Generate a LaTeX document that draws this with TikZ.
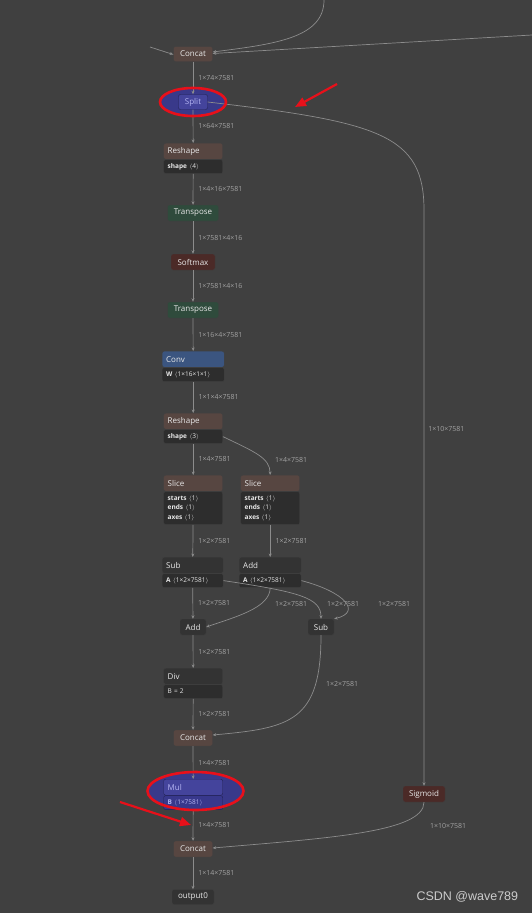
\documentclass[tikz,border=0pt]{standalone}
\usepackage{fontspec}
\setmainfont{Open Sans}
\newfontfamily\wmfont{Liberation Sans}
\usetikzlibrary{positioning,arrows.meta}

\definecolor{bg}{HTML}{404040}
\definecolor{edge}{HTML}{8C8C8C}
\definecolor{lbltext}{HTML}{A2A2A2}
\definecolor{nodetext}{HTML}{E8E8E8}
\definecolor{brownhead}{HTML}{574641}
\definecolor{greenhead}{HTML}{2F4B3C}
\definecolor{redhead}{HTML}{4B2A27}
\definecolor{bluehead}{HTML}{3B5580}
\definecolor{darkhead}{HTML}{333333}
\definecolor{bodyfill}{HTML}{2D2D2D}
\definecolor{selblue}{HTML}{39398A}
\definecolor{selnode}{HTML}{44449C}
\definecolor{selbody}{HTML}{38388C}
\definecolor{seltext}{HTML}{B4B4F2}
\definecolor{marker}{HTML}{E8101A}

\tikzset{
  op/.style={draw=black!75, rounded corners=2pt, fill=#1, text=nodetext,
    font=\fontsize{8}{9}\selectfont, minimum height=15pt, inner xsep=4pt, inner ysep=0pt},
  head/.style={op=#1, anchor=north west, minimum height=16pt, text width=51pt, align=left},
  body/.style={op=bodyfill, below=0pt of #1, text width=51pt, align=left,
    font=\fontsize{6.5}{9.5}\selectfont, minimum height=14pt},
  lbl/.style={font=\fontsize{7}{8}\selectfont, text=lbltext, anchor=west, inner sep=0pt},
  flow/.style={draw=edge, line width=0.7pt, -{Stealth[length=3.5pt,width=3pt]}},
  redring/.style={draw=marker, line width=2.6pt},
  redarrow/.style={draw=marker, line width=2.2pt, -{Triangle[length=11pt,width=9pt]}}
}

\begin{document}
\begin{tikzpicture}[x=1pt, y=-1pt]
    \path[use as bounding box, fill=bg] (0,0) rectangle (532,913);

    \fill[selblue] (193,102) ellipse [x radius=33pt, y radius=14pt];
    \fill[selblue] (195.5,791) ellipse [x radius=48pt, y radius=19pt];

    \coordinate (inL) at (150,47);
    \coordinate (inT) at (324,0);
    \coordinate (inR) at (532,35);

    \node[op=brownhead, minimum width=39pt] (concatA) at (193,54) {Concat};
    \node[op=selnode, draw=selblue!60!black, text=seltext, minimum width=29pt] (split) at (193,102) {Split};
    \node[head=brownhead] (reshapeA) at (163.5,143) {Reshape};
    \node[body=reshapeA] (reshapeAb) {\textbf{shape} $\langle$4$\rangle$};
    \node[op=greenhead, minimum width=51pt, minimum height=16pt] (transA) at (193,213) {Transpose};
    \node[op=redhead, minimum width=44pt, minimum height=16pt] (softmax) at (193,262) {Softmax};
    \node[op=greenhead, minimum width=51pt, minimum height=16pt] (transB) at (193,310) {Transpose};
    \node[head=bluehead, text width=54pt] (conv) at (162,351) {Conv};
    \node[body=conv, text width=54pt] (convb) {\textbf{W} $\langle$1×16×1×1$\rangle$};
    \node[head=brownhead] (reshapeB) at (163.5,413) {Reshape};
    \node[body=reshapeB] (reshapeBb) {\textbf{shape} $\langle$3$\rangle$};
    \node[head=brownhead] (sliceA) at (163.5,475) {Slice};
    \node[body=sliceA, minimum height=33pt] (sliceAb) {\textbf{starts} $\langle$1$\rangle$\\\textbf{ends} $\langle$1$\rangle$\\\textbf{axes} $\langle$1$\rangle$};
    \node[head=brownhead] (sliceB) at (240.5,475) {Slice};
    \node[body=sliceB, minimum height=33pt] (sliceBb) {\textbf{starts} $\langle$1$\rangle$\\\textbf{ends} $\langle$1$\rangle$\\\textbf{axes} $\langle$1$\rangle$};
    \node[head=darkhead, text width=53pt] (subA) at (162,557) {Sub};
    \node[body=subA, text width=53pt] (subAb) {\textbf{A} $\langle$1×2×7581$\rangle$};
    \node[head=darkhead, text width=54pt] (addA) at (239,557) {Add};
    \node[body=addA, text width=54pt] (addAb) {\textbf{A} $\langle$1×2×7581$\rangle$};
    \node[op=darkhead, minimum width=26pt, minimum height=16pt] (addB) at (193,627) {Add};
    \node[op=darkhead, minimum width=26pt, minimum height=16pt] (subB) at (321,627) {Sub};
    \node[head=darkhead] (div) at (163.5,668) {Div};
    \node[body=div] (divb) {B = 2};
    \node[op=brownhead, minimum width=39pt, minimum height=16pt] (concatB) at (193,738) {Concat};
    \node[head=selnode, draw=selblue!60!black, text=seltext] (mul) at (163.5,779) {Mul};
    \node[body=mul, fill=selbody, draw=selblue!60!black, text=seltext] (mulb) {\textbf{B} $\langle$1×7581$\rangle$};
    \node[op=redhead, minimum width=42pt, minimum height=16pt] (sigmoid) at (424,794) {Sigmoid};
    \node[op=brownhead, minimum width=39pt, minimum height=16pt] (concatC) at (193,849) {Concat};
    \node[op=darkhead, minimum width=42pt] (output) at (193,897) {output0};

    \draw[flow] (inL) -- ([yshift=-0.5pt]concatA.west);
    \draw[flow] (inT) .. controls (324,38) and (275,44) .. ([yshift=2pt]concatA.east);
    \draw[flow] (inR) -- ([yshift=0.5pt]concatA.east);
    \draw[flow] (concatA) -- node[lbl, xshift=5pt] {1×74×7581} (split);
    \draw[flow] (split) -- node[lbl, xshift=5pt] {1×64×7581} (reshapeA);
    \draw[flow] (split.east) .. controls (380,122) and (424,135) .. (424,210)
        -- node[lbl, pos=0.38, xshift=4pt] {1×10×7581} (sigmoid);
    \draw[flow] (reshapeAb) -- node[lbl, xshift=5pt] {1×4×16×7581} (transA);
    \draw[flow] (transA) -- node[lbl, xshift=5pt] {1×7581×4×16} (softmax);
    \draw[flow] (softmax) -- node[lbl, xshift=5pt] {1×7581×4×16} (transB);
    \draw[flow] (transB) -- node[lbl, xshift=5pt] {1×16×4×7581} (conv);
    \draw[flow] (convb) -- node[lbl, xshift=5pt] {1×1×4×7581} (reshapeB);
    \draw[flow] (reshapeBb) -- node[lbl, xshift=5pt] {1×4×7581} (sliceA);
    \draw[flow] (reshapeBb.east) .. controls (255,452) and (270,458) .. (sliceB);
    \node[lbl] (lblSliceB) at (275,460) {1×4×7581};
    \draw[flow] (sliceAb) -- node[lbl, xshift=5pt] {1×2×7581} (subA);
    \draw[flow] (sliceBb) -- node[lbl, xshift=5pt] {1×2×7581} (addA);
    \draw[flow] (subAb) -- node[lbl, xshift=5pt] {1×2×7581} (addB);
    \draw[flow] (addAb.south) .. controls (270,608) and (235,617) .. (addB.east);
    \node[lbl] (lblAddB) at (275,604) {1×2×7581};
    \draw[flow] (subAb.east) .. controls (300,592) and (321,598) .. (subB.north);
    \node[lbl] (lblSubB) at (327,604) {1×2×7581};
    \draw[flow] (addAb.east) .. controls (345,592) and (362,612) .. (subB.north east);
    \node[lbl] (lblSubC) at (378,604) {1×2×7581};
    \draw[flow] (addB) -- node[lbl, xshift=5pt] {1×2×7581} (div);
    \draw[flow] (subB.south) .. controls (321,722) and (290,728) .. ([yshift=3pt]concatB.east);
    \node[lbl] (lblConcatB) at (326,684) {1×2×7581};
    \draw[flow] (divb) -- node[lbl, xshift=5pt] {1×2×7581} (concatB);
    \draw[flow] (concatB) -- node[lbl, xshift=5pt] {1×4×7581} (mul);
    \draw[flow] (mulb) -- node[lbl, xshift=5pt] {1×4×7581} (concatC);
    \draw[flow] (sigmoid) .. controls (424,832) and (330,838) .. ([yshift=1pt]concatC.east);
    \node[lbl] (lblConcatC) at (430,826) {1×10×7581};
    \draw[flow] (concatC) -- node[lbl, xshift=5pt] {1×14×7581} (output);

    \draw[redring] (193,102) ellipse [x radius=33pt, y radius=14pt];
    \draw[redring] (195.5,791) ellipse [x radius=48pt, y radius=19pt];
    \coordinate (hintA) at (337,84);
    \coordinate (hintAtip) at (295,107);
    \coordinate (hintB) at (120,802);
    \coordinate (hintBtip) at (191,825);
    \draw[redarrow] (hintA) -- (hintAtip);
    \draw[redarrow] (hintB) -- (hintBtip);

    \node[anchor=west, text=white!80!black, font=\wmfont\fontsize{12.5}{14}\selectfont] (watermark) at (413,897) {CSDN @wave789};
\end{tikzpicture}
\end{document}
